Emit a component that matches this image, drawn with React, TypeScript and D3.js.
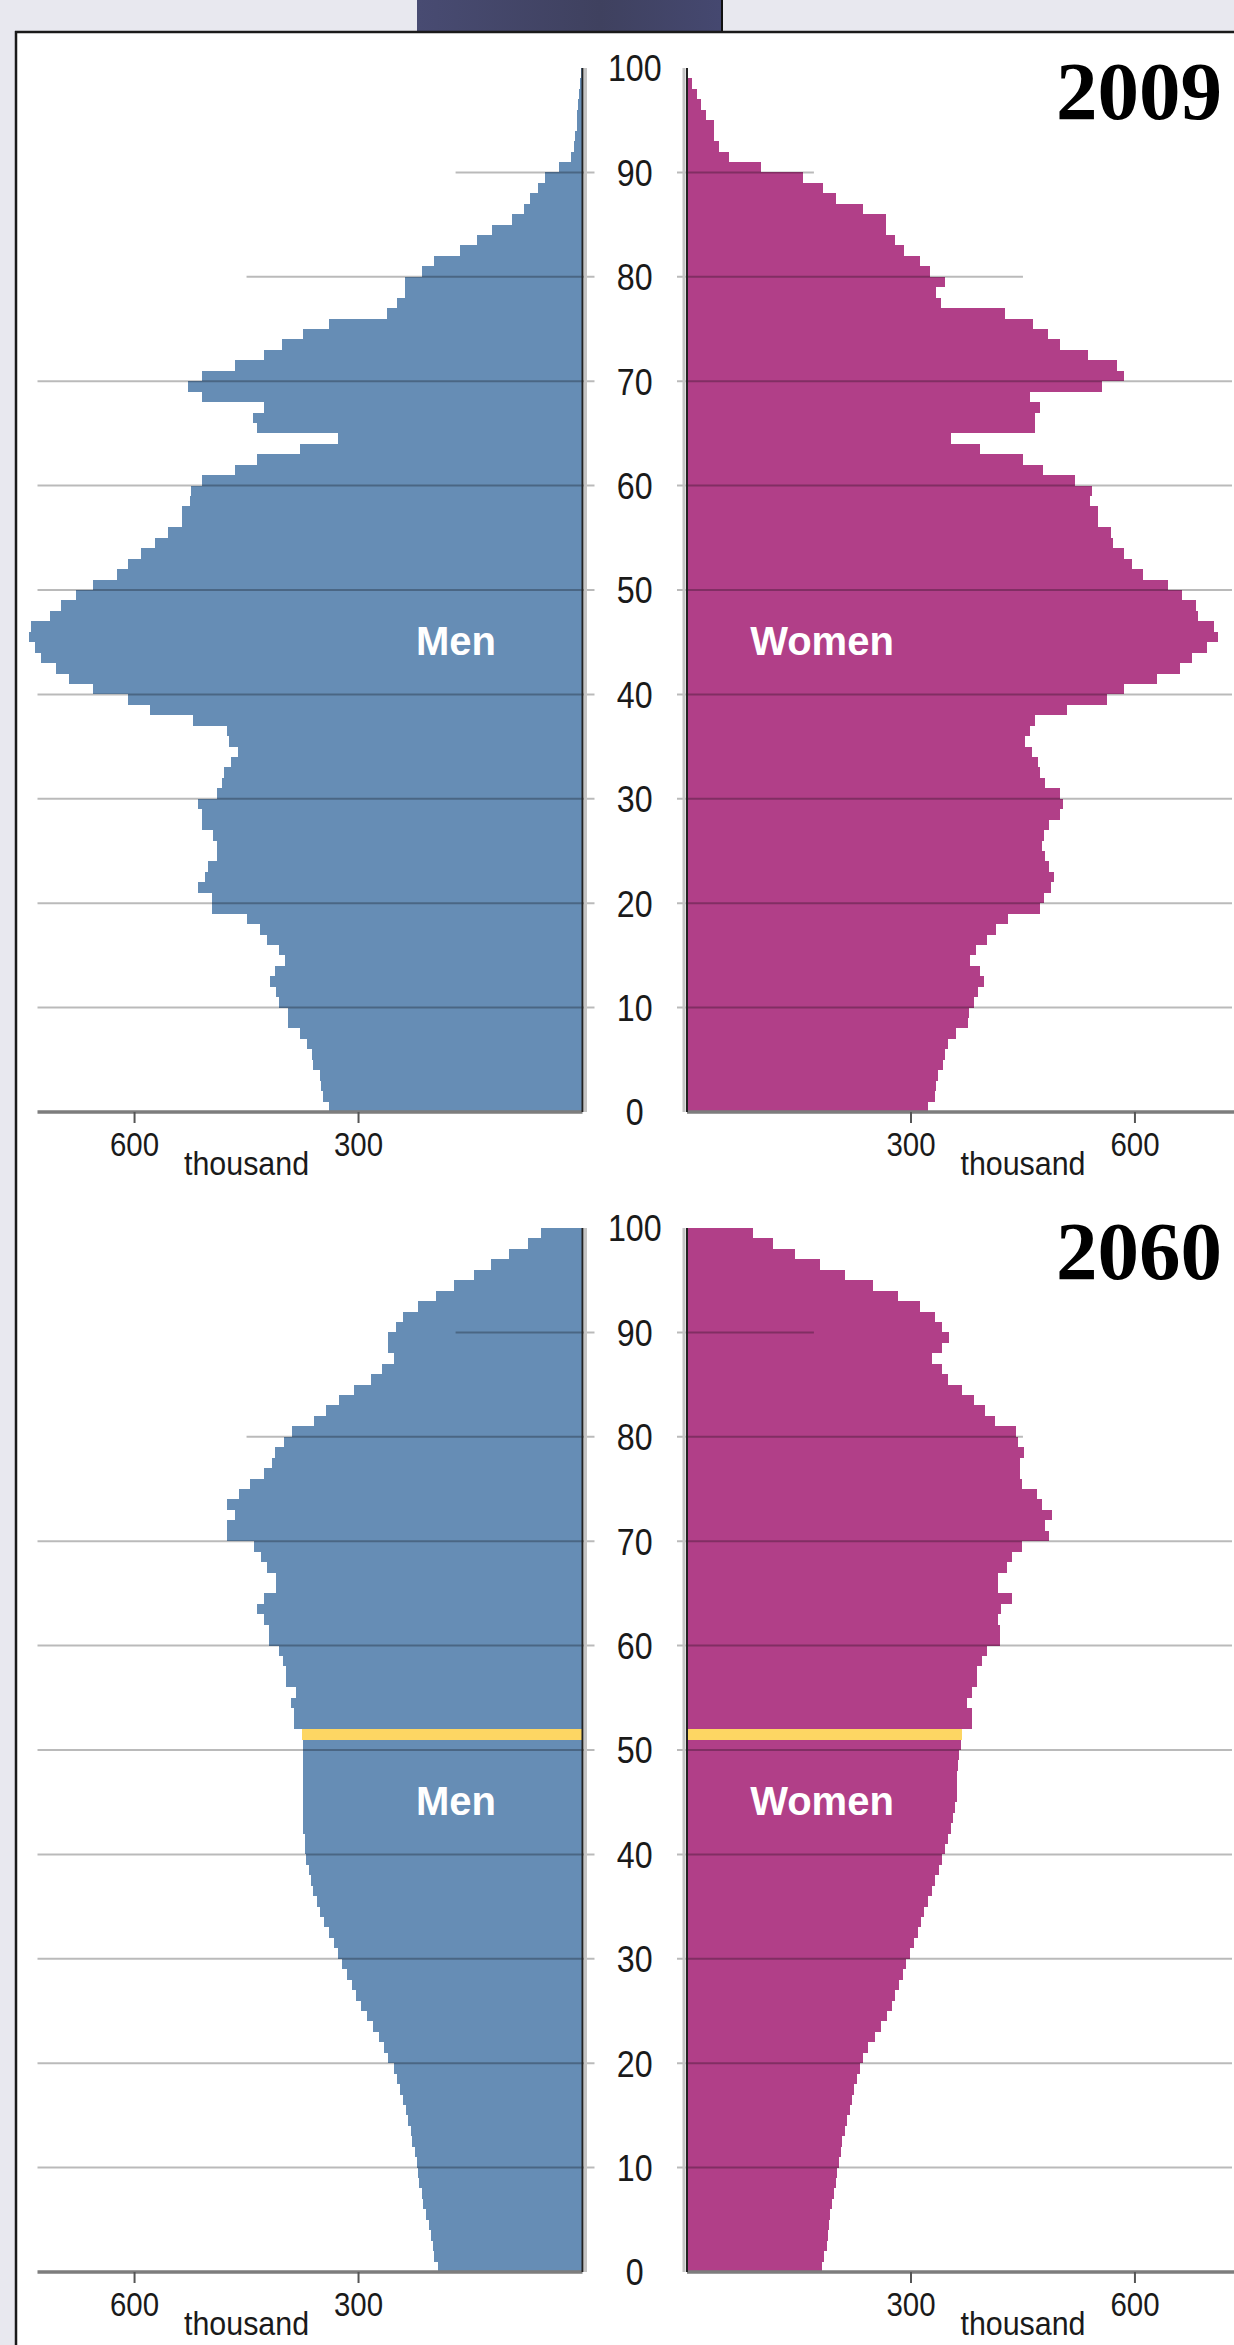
import React from 'react';
import * as d3 from 'd3';

// population by single year of age (thousands), ages 0..99
const men2009 = [
  339, 348, 350, 352, 361, 362, 369, 379, 395, 395,
  406, 411, 418, 412, 399, 406, 422, 432, 450, 496,
  496, 515, 506, 502, 490, 490, 495, 509, 509, 515,
  489, 483, 480, 471, 461, 473, 476, 522, 579, 609,
  656, 688, 705, 725, 733, 742, 739, 713, 699, 679,
  656, 623, 609, 592, 572, 555, 536, 536, 526, 525,
  509, 465, 436, 379, 328, 436, 441, 426, 510, 529,
  510, 465, 426, 402, 375, 339, 262, 249, 238, 238,
  215, 199, 164, 141, 121, 94, 78, 70, 60, 50,
  32, 15, 12, 10, 8, 7, 6, 5, 3, 2,
];
const women2009 = [
  323, 332, 334, 336, 343, 346, 350, 360, 376, 378,
  385, 390, 398, 392, 379, 387, 402, 414, 430, 473,
  478, 488, 492, 485, 480, 476, 478, 485, 499, 503,
  500, 480, 473, 470, 462, 453, 459, 466, 509, 563,
  586, 630, 660, 677, 697, 711, 706, 685, 682, 663,
  644, 611, 596, 586, 570, 568, 550, 550, 540, 542,
  520, 477, 450, 393, 353, 466, 466, 473, 459, 556,
  586, 576, 537, 499, 483, 463, 426, 340, 334, 346,
  326, 312, 290, 279, 266, 266, 236, 199, 182, 156,
  99, 56, 43, 36, 36, 26, 19, 13, 7, 2,
];
const men2060 = [
  193, 199, 200, 203, 205, 209, 213, 215, 219, 220,
  222, 225, 228, 230, 234, 237, 240, 245, 248, 252,
  260, 266, 273, 281, 288, 297, 304, 309, 316, 322,
  327, 333, 339, 346, 351, 356, 361, 364, 367, 370,
  372, 372, 374, 374, 375, 375, 375, 375, 375, 375,
  375, 376, 386, 386, 391, 384, 397, 397, 401, 407,
  420, 420, 426, 436, 426, 410, 411, 422, 430, 440,
  476, 476, 466, 476, 460, 446, 427, 416, 412, 400,
  389, 359, 343, 326, 306, 283, 268, 253, 260, 260,
  250, 240, 220, 196, 172, 146, 123, 99, 73, 55,
];
const women2060 = [
  181, 184, 187, 189, 190, 192, 194, 197, 199, 201,
  204, 206, 208, 211, 214, 218, 221, 224, 228, 232,
  236, 242, 252, 260, 268, 274, 279, 284, 289, 294,
  299, 304, 309, 313, 318, 323, 328, 332, 337, 342,
  346, 349, 353, 356, 359, 361, 361, 362, 363, 364,
  367, 368, 382, 382, 375, 382, 388, 388, 395, 402,
  419, 419, 416, 421, 435, 416, 416, 428, 435, 449,
  485, 479, 489, 476, 469, 449, 446, 446, 451, 444,
  441, 412, 399, 384, 368, 349, 342, 328, 341, 351,
  341, 332, 312, 282, 249, 212, 178, 144, 115, 88,
];

const years = ['2009', '2060'];
const highlightAge = [null, 51]; // cohort born 2009, marked in 2060
const ageTicks = [0, 10, 20, 30, 40, 50, 60, 70, 80, 90, 100];
const gridAges = [10, 20, 30, 40, 50, 60, 70, 80, 90];
const gridReach = [730, 730, 730, 730, 730, 730, 730, 450, 170];
const valueTicks = [300, 600];

const W = 1234;
const H = 2345;
const MEN_X = 582.5;
const WOMEN_X = 687;
const PANEL_SHIFT = 1160;

const MEN_COLOR = '#668db5';
const WOMEN_COLOR = '#b13f88';
const MARK_COLOR = '#fdd663';
const sans = '"Liberation Sans", Arial, sans-serif';

const len = d3.scaleLinear().domain([0, 730]).range([0, 545]);

function Pyramid({ idx, men, women }: { idx: number; men: number[]; women: number[] }) {
  const off = idx * PANEL_SHIFT;
  const y = d3.scaleLinear().domain([0, 100]).range([1112 + off, 68 + off]);
  const ages = men.map((_, i) => i);
  const mark = highlightAge[idx];
  const y0 = y(0);
  const midX = (MEN_X + WOMEN_X) / 2;

  return (
    <g>
      {/* bars */}
      <g shapeRendering="crispEdges">
        {ages.map((a) => (
          <rect
            key={'m' + a}
            x={MEN_X - len(men[a])}
            y={y(a + 1)}
            width={len(men[a])}
            height={y(a) - y(a + 1)}
            fill={a === mark ? MARK_COLOR : MEN_COLOR}
          />
        ))}
        {ages.map((a) => (
          <rect
            key={'w' + a}
            x={WOMEN_X}
            y={y(a + 1)}
            width={len(women[a])}
            height={y(a) - y(a + 1)}
            fill={a === mark ? MARK_COLOR : WOMEN_COLOR}
          />
        ))}
      </g>

      {/* grid lines, drawn over the bars */}
      {gridAges.map((a, i) => (
        <g key={'g' + a} stroke="#000" strokeOpacity={0.27} strokeWidth={2}>
          <line x1={MEN_X - len(gridReach[i])} x2={MEN_X + 12} y1={y(a)} y2={y(a)} />
          <line x1={WOMEN_X - 10} x2={WOMEN_X + len(gridReach[i])} y1={y(a)} y2={y(a)} />
        </g>
      ))}

      {/* baseline */}
      <g stroke="#7d7d7d" strokeWidth={3.5}>
        <line x1={MEN_X - len(730)} x2={MEN_X} y1={y0} y2={y0} />
        <line x1={WOMEN_X} x2={W} y1={y0} y2={y0} />
      </g>

      {/* vertical axes with soft shadow */}
      <line x1={MEN_X + 3} x2={MEN_X + 3} y1={y(100)} y2={y0} stroke="#c4c4c4" strokeWidth={3} />
      <line x1={WOMEN_X - 3} x2={WOMEN_X - 3} y1={y(100)} y2={y0} stroke="#c4c4c4" strokeWidth={3} />
      <line x1={MEN_X} x2={MEN_X} y1={y(100)} y2={y0} stroke="#222" strokeWidth={2} />
      <line x1={WOMEN_X} x2={WOMEN_X} y1={y(100)} y2={y0} stroke="#222" strokeWidth={2} />

      {/* age labels, slightly condensed */}
      {ageTicks.map((a) => (
        <text
          key={'a' + a}
          transform={`translate(${midX},${y(a)}) scale(0.87,1)`}
          dy="0.36em"
          textAnchor="middle"
          fontFamily={sans}
          fontSize={37}
          fill="#1a1a1a"
        >
          {a}
        </text>
      ))}

      {/* value ticks */}
      {valueTicks.map((v) => (
        <g key={'t' + v} fontFamily={sans} fontSize={32} fill="#1a1a1a" textAnchor="middle">
          <line x1={MEN_X - len(v)} x2={MEN_X - len(v)} y1={y0} y2={y0 + 11} stroke="#555" strokeWidth={2} />
          <line x1={WOMEN_X + len(v)} x2={WOMEN_X + len(v)} y1={y0} y2={y0 + 11} stroke="#555" strokeWidth={2} />
          <text transform={`translate(${MEN_X - len(v)},${y0 + 44}) scale(0.92,1.05)`}>{v}</text>
          <text transform={`translate(${WOMEN_X + len(v)},${y0 + 44}) scale(0.92,1.05)`}>{v}</text>
        </g>
      ))}
      <g fontFamily={sans} fontSize={32} fill="#1a1a1a" textAnchor="middle">
        <text transform={`translate(${MEN_X - len(450)},${y0 + 63}) scale(0.95,1.05)`}>thousand</text>
        <text transform={`translate(${WOMEN_X + len(450)},${y0 + 63}) scale(0.95,1.05)`}>thousand</text>
      </g>

      {/* series labels */}
      <g fontFamily={sans} fontSize={40} fontWeight="bold" fill="#fff" textAnchor="middle">
        <text x={456} y={655 + off}>Men</text>
        <text x={822} y={655 + off}>Women</text>
      </g>

      {/* year */}
      <text
        x={1222}
        y={119 + off}
        textAnchor="end"
        fontFamily={'"Liberation Serif", "Times New Roman", serif'}
        fontWeight="bold"
        fontSize={83}
        fill="#000"
      >
        {years[idx]}
      </text>
    </g>
  );
}

export default function App() {
  return (
    <svg
      width={W}
      height={H}
      viewBox={`0 0 ${W} ${H}`}
      style={{ position: 'absolute', left: 0, top: 0, display: 'block' }}
    >
      <defs>
        <linearGradient id="tab" x1="0" x2="1" y1="0" y2="0">
          <stop offset="0" stopColor="#484b72" />
          <stop offset="0.6" stopColor="#3f415f" />
          <stop offset="1" stopColor="#454870" />
        </linearGradient>
      </defs>
      <rect x={0} y={0} width={W} height={H} fill="#e8e8ef" />
      <rect x={417} y={0} width={305} height={32} fill="url(#tab)" />
      <line x1={722} x2={722} y1={0} y2={32} stroke="#111" strokeWidth={2} />
      <rect x={16} y={32} width={W - 16} height={H - 32} fill="#fff" />
      <line x1={15} x2={W} y1={32} y2={32} stroke="#1a1a1a" strokeWidth={2.5} />
      <line x1={16} x2={16} y1={31} y2={H} stroke="#1a1a1a" strokeWidth={2.5} />

      <Pyramid idx={0} men={men2009} women={women2009} />
      <Pyramid idx={1} men={men2060} women={women2060} />
    </svg>
  );
}
